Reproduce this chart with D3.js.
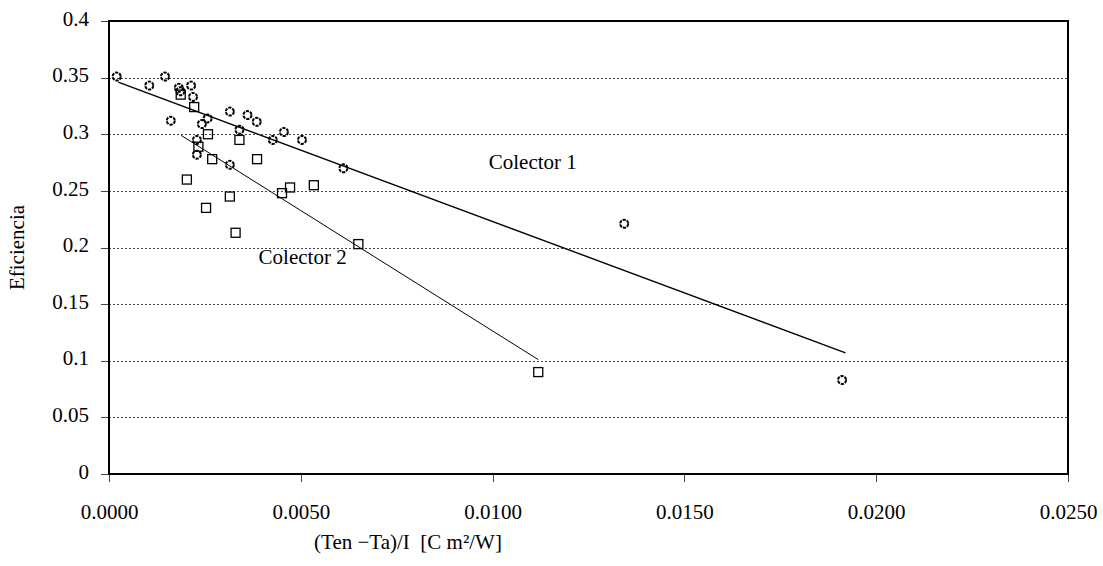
<!DOCTYPE html>
<meta charset="utf-8">
<style>
body { margin: 0; background: #fff; }
svg text { font-family: "Liberation Serif", "Times New Roman", serif; fill: #000; }
.grid line { stroke: #444; stroke-width: 1; stroke-dasharray: 2,2; shape-rendering: crispEdges; }
.frame { fill: none; stroke: #000; stroke-width: 2; shape-rendering: crispEdges; }
.tick line { stroke: #444; shape-rendering: crispEdges; }
</style>
<body>
<script src="https://d3js.org/d3.v7.min.js"></script>
<script>
// Colector 1 (circles)
var col1X = [0.00020, 0.00105, 0.00146, 0.00182, 0.00186, 0.00214, 0.00219, 0.00161, 0.00257, 0.00242,
             0.00229, 0.00229, 0.00315, 0.00361, 0.00385, 0.00340, 0.00427, 0.00456, 0.00503, 0.00315,
             0.00611, 0.01343, 0.01911];
var col1Y = [0.351, 0.343, 0.351, 0.341, 0.338, 0.343, 0.333, 0.312, 0.314, 0.309,
             0.295, 0.282, 0.320, 0.317, 0.311, 0.304, 0.295, 0.302, 0.295, 0.273,
             0.270, 0.221, 0.083];

// Colector 2 (squares)
var col2X = [0.00187, 0.00222, 0.00258, 0.00233, 0.00269, 0.00340, 0.00386, 0.00203, 0.00315, 0.00253,
             0.00330, 0.00451, 0.00472, 0.00534, 0.00650, 0.01119];
var col2Y = [0.335, 0.324, 0.300, 0.289, 0.278, 0.295, 0.278, 0.260, 0.245, 0.235,
             0.213, 0.248, 0.253, 0.255, 0.203, 0.090];

// linear trend lines: [x start, y start, x end, y end]
var trend1 = [0.00024, 0.346, 0.01920, 0.107];
var trend2 = [0.00188, 0.299, 0.01119, 0.101];

var yTicks = [0, 0.05, 0.1, 0.15, 0.2, 0.25, 0.3, 0.35, 0.4];
var yTickLabels = ["0", "0.05", "0.1", "0.15", "0.2", "0.25", "0.3", "0.35", "0.4"];
var xTicks = [0, 0.005, 0.01, 0.015, 0.02, 0.025];

var W = 1103, H = 566;
var margin = {top: 21, right: 35, bottom: 92, left: 109};
var width = W - margin.left - margin.right,
    height = H - margin.top - margin.bottom;

var x = d3.scaleLinear().domain([0, 0.025]).range([0, width]);
var y = d3.scaleLinear().domain([0, 0.4]).range([height, 0]);

var svg = d3.select("body").append("svg")
    .attr("width", W)
    .attr("height", H);

var g = svg.append("g")
    .attr("transform", "translate(" + margin.left + "," + margin.top + ")");

// dotted gridlines
g.append("g")
    .attr("class", "grid")
  .selectAll("line")
  .data(yTicks.filter(function(d) { return d > 0 && d < 0.4; }))
  .enter().append("line")
    .attr("x1", 0)
    .attr("x2", width)
    .attr("y1", function(d) { return Math.round(y(d)) + 0.5; })
    .attr("y2", function(d) { return Math.round(y(d)) + 0.5; });

// axes
var yAxis = d3.axisLeft(y)
    .tickValues(yTicks)
    .tickSize(8)
    .tickPadding(12)
    .tickFormat(function(d, i) { return yTickLabels[i]; });

var xAxis = d3.axisBottom(x)
    .tickValues(xTicks)
    .tickSize(8)
    .tickPadding(22)
    .tickFormat(d3.format(".4f"));

var ya = g.append("g").call(yAxis)
    .attr("font-family", "Liberation Serif, serif")
    .attr("font-size", 21);
ya.select(".domain").remove();
ya.selectAll("text").attr("dy", "0.2em");

var xa = g.append("g")
    .attr("transform", "translate(0," + height + ")")
    .call(xAxis)
    .attr("font-family", "Liberation Serif, serif")
    .attr("font-size", 21);
xa.select(".domain").remove();

// plot frame
g.append("rect")
    .attr("class", "frame")
    .attr("x", 0)
    .attr("y", 0)
    .attr("width", width)
    .attr("height", height);

// trend lines
g.append("line")
    .attr("x1", x(trend1[0])).attr("y1", y(trend1[1]))
    .attr("x2", x(trend1[2])).attr("y2", y(trend1[3]))
    .attr("stroke", "#000")
    .attr("stroke-width", 1.4);

g.append("line")
    .attr("x1", x(trend2[0])).attr("y1", y(trend2[1]))
    .attr("x2", x(trend2[2])).attr("y2", y(trend2[3]))
    .attr("stroke", "#000")
    .attr("stroke-width", 1);

// Colector 2 squares
g.selectAll(".sq")
  .data(col2X)
  .enter().append("rect")
    .attr("class", "sq")
    .attr("x", function(d) { return x(d) - 4.5; })
    .attr("y", function(d, i) { return y(col2Y[i]) - 4.5; })
    .attr("width", 9)
    .attr("height", 9)
    .attr("fill", "none")
    .attr("stroke", "#000")
    .attr("stroke-width", 1.3);

// Colector 1 circles
g.selectAll(".pt")
  .data(col1X)
  .enter().append("circle")
    .attr("class", "pt")
    .attr("cx", function(d) { return x(d); })
    .attr("cy", function(d, i) { return y(col1Y[i]); })
    .attr("r", 4)
    .attr("fill", "none")
    .attr("stroke", "#000")
    .attr("stroke-width", 2)
    .attr("stroke-dasharray", "3.2,1");

// series labels
g.append("text")
    .attr("x", x(0.0099))
    .attr("y", y(0.269))
    .style("font-size", "21px")
    .text("Colector 1");

g.append("text")
    .attr("x", x(0.0039))
    .attr("y", y(0.185))
    .style("font-size", "21px")
    .text("Colector 2");

// axis titles
svg.append("text")
    .attr("transform", "translate(24," + (margin.top + height / 2) + ") rotate(-90)")
    .attr("text-anchor", "middle")
    .style("font-size", "21px")
    .text("Eficiencia");

svg.append("text")
    .attr("x", 408)
    .attr("y", 549)
    .attr("text-anchor", "middle")
    .style("font-size", "21px")
    .style("white-space", "pre")
    .text("(Ten \u2212Ta)/I  [C m\u00b2/W]");
</script>
